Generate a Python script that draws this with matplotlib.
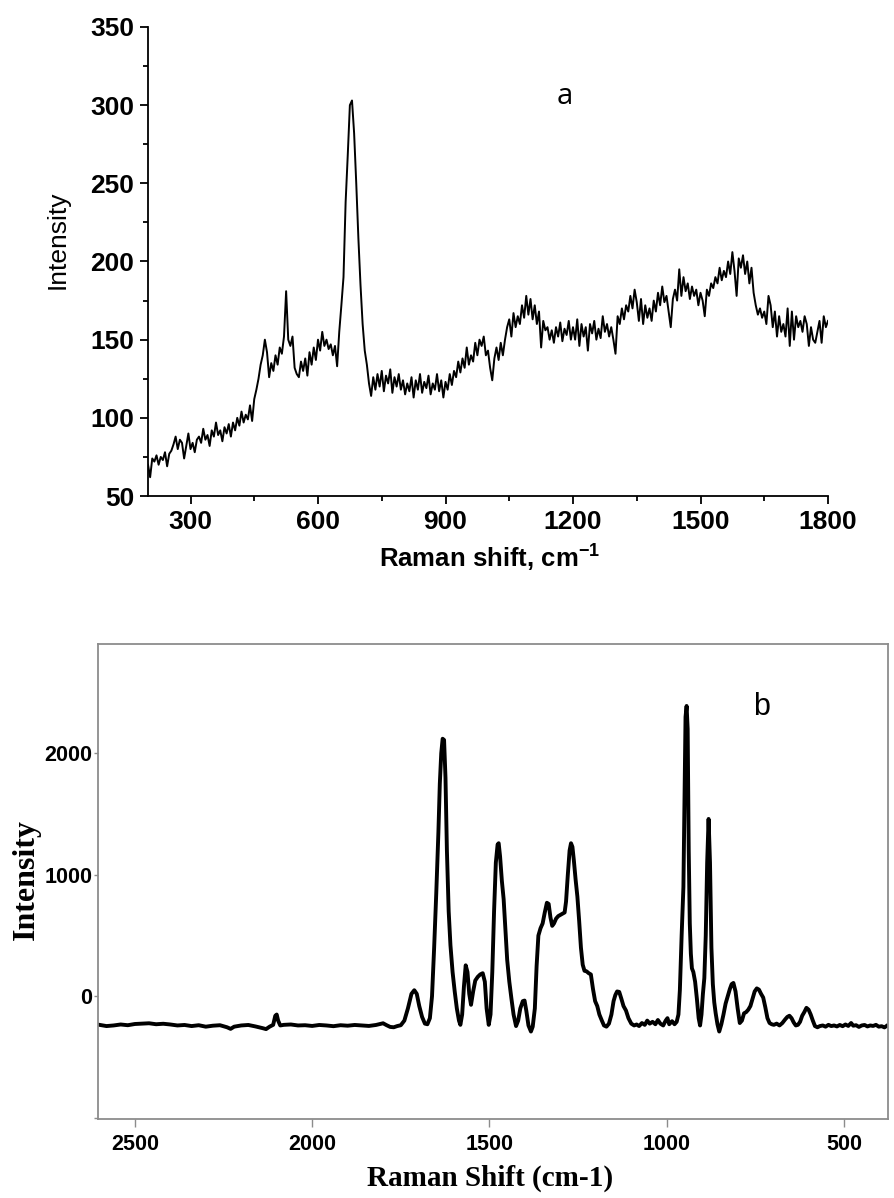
import matplotlib
matplotlib.use("Agg")
import matplotlib.pyplot as plt
import numpy as np

plt.rcParams['mathtext.fontset'] = 'custom'
plt.rcParams['mathtext.bf'] = 'Liberation Sans:bold'
plt.rcParams['mathtext.rm'] = 'Liberation Sans:bold'

# --- panel a: spectrum read every 5 cm-1 from 200 to 1800 ---
shift_a = np.arange(200, 1801, 5)
intensity_a = [
    70, 62, 74, 72, 76, 70, 75, 73, 78, 69, 77, 79, 83, 88, 80, 86, 84, 74, 82, 90,
    80, 84, 78, 86, 88, 84, 93, 86, 89, 82, 92, 88, 97, 89, 92, 85, 94, 90, 96, 88,
    97, 92, 100, 95, 104, 97, 102, 99, 108, 98, 112, 118, 125, 134, 140, 150, 142, 126, 135, 130,
    140, 134, 145, 141, 152, 181, 150, 146, 152, 132, 128, 126, 136, 130, 138, 127, 142, 134, 145, 137,
    150, 143, 155, 146, 150, 144, 147, 140, 146, 133, 155, 172, 190, 238, 268, 300, 303, 282, 250, 215,
    185, 160, 143, 134, 122, 114, 126, 118, 128, 120, 130, 117, 127, 122, 131, 116, 126, 120, 128, 118,
    124, 115, 122, 117, 126, 113, 124, 118, 128, 116, 123, 119, 127, 115, 122, 118, 128, 117, 124, 113,
    123, 118, 128, 121, 130, 126, 136, 129, 138, 132, 145, 134, 140, 136, 148, 140, 150, 146, 152, 140,
    143, 132, 124, 138, 145, 137, 148, 140, 150, 158, 163, 152, 167, 158, 165, 160, 172, 164, 178, 166,
    176, 163, 172, 160, 168, 145, 162, 156, 158, 150, 156, 148, 158, 152, 161, 149, 157, 153, 162, 150,
    158, 150, 163, 146, 160, 152, 158, 143, 160, 154, 162, 150, 157, 151, 165, 155, 160, 152, 158, 150,
    141, 165, 160, 170, 163, 172, 168, 178, 170, 182, 174, 162, 176, 160, 172, 164, 170, 162, 175, 168,
    180, 172, 184, 174, 178, 168, 158, 176, 182, 175, 195, 178, 190, 181, 186, 176, 184, 178, 182, 172,
    180, 175, 165, 182, 178, 186, 183, 190, 186, 196, 188, 194, 190, 200, 192, 206, 194, 178, 202, 196,
    204, 192, 200, 186, 196, 180, 172, 166, 170, 164, 168, 160, 178, 172, 158, 168, 152, 165, 155, 160,
    152, 170, 146, 168, 150, 165, 158, 162, 155, 165, 160, 146, 158, 150, 148, 155, 162, 148, 165, 158,
    162,
]

# --- panel b: spectrum points (cm-1, intensity) ---
shift_b = [
    2600, 2580, 2560, 2540, 2520, 2500, 2480, 2460, 2440, 2420, 2400, 2380, 2360, 2340, 2320,
    2300, 2280, 2260, 2240, 2230, 2220, 2200, 2180, 2160, 2140, 2130, 2120, 2110, 2104, 2100,
    2096, 2090, 2080, 2060, 2040, 2020, 2000, 1980, 1960, 1940, 1920, 1900, 1880, 1860, 1840,
    1820, 1800, 1790, 1780, 1770, 1760, 1750, 1740, 1730, 1720, 1712, 1705, 1698, 1690, 1682,
    1675, 1668, 1662, 1656, 1650, 1644, 1640, 1636, 1632, 1628, 1624, 1620, 1615, 1610, 1604,
    1598, 1592, 1586, 1582, 1577, 1572, 1567, 1562, 1557, 1552, 1546, 1540, 1533, 1526, 1519,
    1513, 1508, 1502, 1497, 1492, 1487, 1482, 1477, 1474, 1470, 1465, 1460, 1455, 1450, 1444,
    1438, 1432, 1425, 1419, 1413, 1406, 1401, 1396, 1390, 1383, 1378, 1372, 1367, 1362, 1356,
    1350, 1344, 1338, 1333, 1328, 1323, 1318, 1312, 1306, 1300, 1294, 1288, 1284, 1279, 1274,
    1270, 1266, 1262, 1257, 1252, 1247, 1242, 1237, 1232, 1226, 1220, 1214, 1208, 1202, 1196,
    1190, 1183, 1177, 1170, 1163, 1156, 1150, 1145, 1140, 1134, 1128, 1122, 1115, 1108, 1100,
    1092, 1085, 1078, 1070, 1062, 1055, 1048, 1040, 1032, 1025, 1018, 1010, 1003, 998, 993,
    985, 978, 972, 967, 963, 958, 953, 950, 947, 944, 941, 938, 935, 932, 929,
    925, 920, 915, 910, 906, 902, 898, 894, 890, 886, 882, 878, 874, 870, 866,
    862, 857, 852, 846, 840, 834, 828, 822, 817, 812, 806, 800, 794, 788, 782,
    776, 770, 764, 758, 752, 746, 740, 734, 728, 722, 716, 710, 704, 698, 690,
    682, 674, 666, 660, 654, 648, 642, 636, 630, 624, 618, 612, 606, 600, 594,
    588, 582, 575, 568, 560, 552, 544, 536, 528, 520, 512, 504, 496, 488, 480,
    474, 466, 458, 450, 442, 434, 426, 418, 410, 402, 394, 386, 380,
]
intensity_b = [
    -235, -245, -240, -232, -238, -228, -225, -222, -230, -226, -232, -240, -236, -245, -238,
    -250, -242, -238, -255, -268, -250, -240, -236, -248, -262, -270, -250, -235, -160, -150,
    -200, -240, -235, -232, -240, -238, -244, -236, -240, -246, -238, -242, -236, -240, -244,
    -236, -222, -238, -252, -255, -245, -238, -200, -100, 20, 50, 20, -80, -170, -225,
    -230, -180, 0, 400, 850, 1350, 1750, 2000, 2120, 2110, 1800, 1200, 700, 420, 200,
    40, -100, -200, -235, -150, 80, 255, 200, 20, -70, 40, 130, 160, 180, 190,
    120, -100, -235, -150, 200, 700, 1100, 1250, 1260, 1150, 950, 800, 550, 300, 120,
    -20, -150, -245, -200, -100, -40, -35, -120, -240, -290, -250, -100, 250, 500, 560,
    600, 690, 770, 760, 650, 580, 600, 640, 660, 670, 680, 690, 780, 1000, 1200,
    1260, 1230, 1120, 960, 820, 620, 400, 260, 210, 205, 190, 180, 60, -40, -80,
    -150, -200, -240, -250, -225, -150, -40, 10, 40, 36, -20, -80, -117, -180, -225,
    -240, -232, -245, -220, -235, -200, -225, -210, -230, -195, -225, -240, -200, -180, -230,
    -205, -230, -210, -150, 50, 500, 900, 1600, 2300, 2390, 2200, 1200, 600, 350, 230,
    200, 120, -20, -180, -240, -150, 20, 150, 500, 1100, 1460, 1100, 400, 100, -50,
    -140, -230, -290, -230, -150, -60, 0, 60, 100, 110, 40, -100, -220, -200, -140,
    -130, -110, -80, -20, 40, 65, 55, 20, -10, -90, -180, -220, -230, -235, -225,
    -240, -220, -190, -170, -160, -180, -215, -240, -235, -210, -160, -130, -95, -110, -150,
    -200, -245, -255, -245, -240, -250, -235, -245, -240, -248, -236, -246, -232, -244, -220,
    -242, -238, -252, -240, -236, -248, -240, -244, -235, -250, -246, -256, -244,
]

ticks_a_x = [300, 600, 900, 1200, 1500, 1800]
ticks_a_y = [50, 100, 150, 200, 250, 300, 350]
ticks_b_x = [2500, 2000, 1500, 1000, 500]
ticks_b_y = [-1000, 0, 1000, 2000]
labels_b_y = ['', '0', '1000', '2000']

W, H = 894, 1198
fig = plt.figure(figsize=(W / 100, H / 100), dpi=100)

# panel a
ax1 = fig.add_axes([148 / W, 1 - 496 / H, 680 / W, 469 / H])
ax1.plot(shift_a, intensity_a, color='black', lw=1.4)
ax1.set_xlim(200, 1800)
ax1.set_ylim(50, 350)
ax1.set_xticks(ticks_a_x)
ax1.set_yticks(ticks_a_y)
ax1.set_xticks([450, 750, 1050, 1350, 1650], minor=True)
ax1.set_yticks([75, 125, 175, 225, 275, 325], minor=True)
for s in ['top', 'right']:
    ax1.spines[s].set_visible(False)
for s in ['left', 'bottom']:
    ax1.spines[s].set_linewidth(1.3)
ax1.tick_params(which='major', direction='out', length=6, width=1.3, pad=4)
ax1.tick_params(which='minor', direction='out', length=3.5, width=1.3)
for lab in ax1.get_xticklabels() + ax1.get_yticklabels():
    lab.set_fontfamily('Liberation Sans')
    lab.set_fontweight('bold')
    lab.set_fontsize(19)

fig.text(58 / W, 1 - 240 / H, 'Intensity', rotation=90, ha='center', va='center',
         fontsize=19, family='Liberation Sans')
fig.text(490 / W, 1 - 557 / H, r'Raman shift, cm$^{\mathbf{-1}}$', ha='center', va='center',
         fontsize=18.5, family='Liberation Sans', fontweight='bold')
fig.text(565 / W, 1 - 97 / H, 'a', ha='center', va='center', fontsize=21, family='Open Sans')

# panel b
gray = '#8c8c8c'
ax2 = fig.add_axes([98 / W, 1 - 1119 / H, 790 / W, 475 / H])
ax2.plot(shift_b, intensity_b, color='black', lw=2.8, solid_joinstyle='round')
ax2.set_xlim(2604, 376)
ax2.set_ylim(-1010, 2900)
ax2.set_xticks(ticks_b_x)
ax2.set_yticks(ticks_b_y)
ax2.set_yticklabels(labels_b_y)
for s in ax2.spines.values():
    s.set_color(gray)
    s.set_linewidth(1.3)
ax2.tick_params(axis='x', direction='out', length=6, width=1.0, color=gray, pad=5)
ax2.tick_params(axis='y', direction='out', length=3, width=1.0, color=gray, pad=1)
for lab in ax2.get_xticklabels() + ax2.get_yticklabels():
    lab.set_fontfamily('Liberation Sans')
    lab.set_fontweight('bold')
    lab.set_fontsize(15.5)

fig.text(26 / W, 1 - 880 / H, 'Intensity', rotation=90, ha='center', va='center',
         fontsize=23, family='Liberation Serif', fontweight='bold')
fig.text(490 / W, 1 - 1178 / H, 'Raman Shift (cm-1)', ha='center', va='center',
         fontsize=21, family='Liberation Serif', fontweight='bold')
fig.text(762 / W, 1 - 707 / H, 'b', ha='center', va='center', fontsize=22, family='Liberation Sans')

fig.savefig('out.png', dpi=100)
